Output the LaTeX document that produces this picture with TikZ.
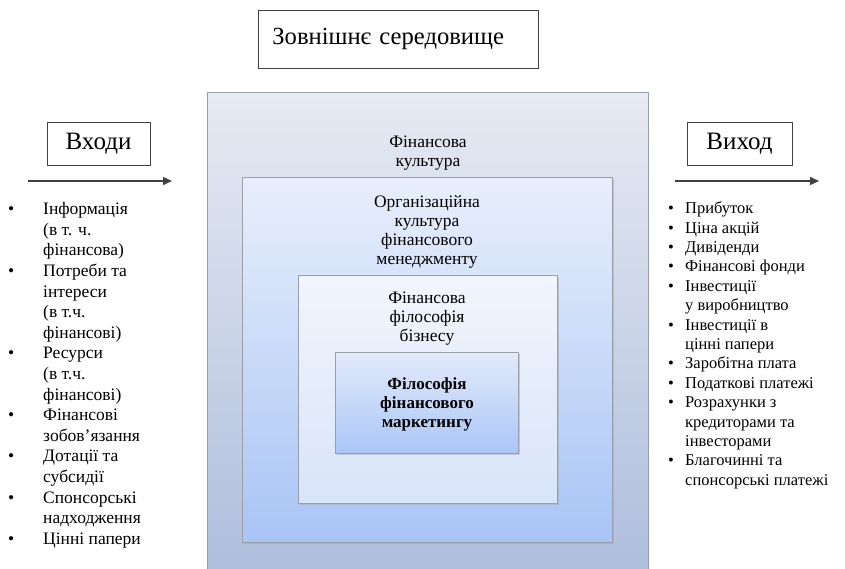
\documentclass[tikz,border=0pt]{standalone}
\usepackage{fontspec}
\setmainfont{Liberation Serif}
\usetikzlibrary{shadows,arrows.meta}
\definecolor{edge}{HTML}{9A9EA6}
\definecolor{arr}{HTML}{404040}
\tikzset{
  lvl/.style={draw=edge, line width=1.2pt, anchor=north west, shading=axis, inner sep=0pt},
  lbl/.style={align=center, font=\fontsize{17.5}{19}\selectfont, inner sep=0pt},
  hbox/.style={draw=black!75, line width=0.8pt, fill=white, inner sep=0pt},
  flow/.style={draw=arr, line width=1.4pt, -{Triangle[length=9pt,width=8pt]}},
}
\begin{document}
\begin{tikzpicture}[x=1pt,y=-1pt]
\useasboundingbox[fill=white] (0,0) rectangle (845,568);
% nested boxes
\node[lvl, top color={rgb,255:red,230;green,234;blue,243}, bottom color={rgb,255:red,172;green,188;blue,220}, minimum width=441pt, minimum height=500pt] (outer) at (207,92) {};
\node[lvl, top color={rgb,255:red,232;green,239;blue,251}, bottom color={rgb,255:red,168;green,196;blue,246}, drop shadow={shadow xshift=1.5pt, shadow yshift=-1.5pt, fill=black!35}, minimum width=370pt, minimum height=365pt] (second) at (242,177) {};
\node[lvl, top color={rgb,255:red,242;green,245;blue,252}, bottom color={rgb,255:red,216;green,228;blue,249}, drop shadow={shadow xshift=1.5pt, shadow yshift=-1.5pt, fill=black!35}, minimum width=259pt, minimum height=228pt] (third) at (298,275) {};
\node[lvl, top color={rgb,255:red,226;green,234;blue,250}, bottom color={rgb,255:red,170;green,198;blue,247}, drop shadow={shadow xshift=1.5pt, shadow yshift=-1.5pt, fill=black!35}, minimum width=183pt, minimum height=101pt] (inner) at (335,352) {};
\node[lbl] (t1) at (428,153) {Фінансова\\культура};
\node[lbl] (t2) at (427,232) {Організаційна\\культура\\фінансового\\менеджменту};
\node[lbl] (t3) at (427,319) {Фінансова\\філософія\\бізнесу};
\node[lbl, font=\bfseries\fontsize{17}{19}\selectfont] (t4) at (427,404) {Філософія\\фінансового\\маркетингу};
% heading
\node[hbox, anchor=north west, minimum width=280pt, minimum height=58pt, text width=252pt, inner xsep=14pt, align=left, font=\fontsize{24.6}{28}\selectfont] (env) at (258,10) {Зовнішнє середовище};
% inputs / outputs
\node[hbox, minimum width=103pt, minimum height=43pt, font=\fontsize{25}{28}\selectfont] (in) at (98.5,143.5) {Входи};
\node[hbox, minimum width=105pt, minimum height=43pt, font=\fontsize{25}{28}\selectfont] (out) at (739.5,143.5) {Виход};
\coordinate (ina) at (28,181);
\coordinate (inb) at (172,181);
\coordinate (outa) at (675,181);
\coordinate (outb) at (819,181);
\draw[flow] (ina) -- (inb);
\draw[flow] (outa) -- (outb);
% lists
\node[anchor=north west, inner sep=0pt, font=\fontsize{17.5}{20.6}\selectfont] (inlist) at (8,200) {%
\begin{tabular}{@{}p{35pt}@{}l@{}}
•&Інформація\\
&(в т. ч.\\
&фінансова)\\
•&Потреби та\\
&інтереси\\
&(в т.ч.\\
&фінансові)\\
•&Ресурси\\
&(в т.ч.\\
&фінансові)\\
•&Фінансові\\
&зобов'язання\\
•&Дотації та\\
&субсидії\\
•&Спонсорські\\
&надходження\\
•&Цінні папери
\end{tabular}};
\node[anchor=north west, inner sep=0pt, font=\fontsize{16.5}{19.4}\selectfont] (outlist) at (668,200) {%
\begin{tabular}{@{}p{17pt}@{}l@{}}
•&Прибуток\\
•&Ціна акцій\\
•&Дивіденди\\
•&Фінансові фонди\\
•&Інвестиції\\
&у виробництво\\
•&Інвестиції в\\
&цінні папери\\
•&Заробітна плата\\
•&Податкові платежі\\
•&Розрахунки з\\
&кредиторами та\\
&інвесторами\\
•&Благочинні та\\
&спонсорські платежі
\end{tabular}};
\end{tikzpicture}
\end{document}
